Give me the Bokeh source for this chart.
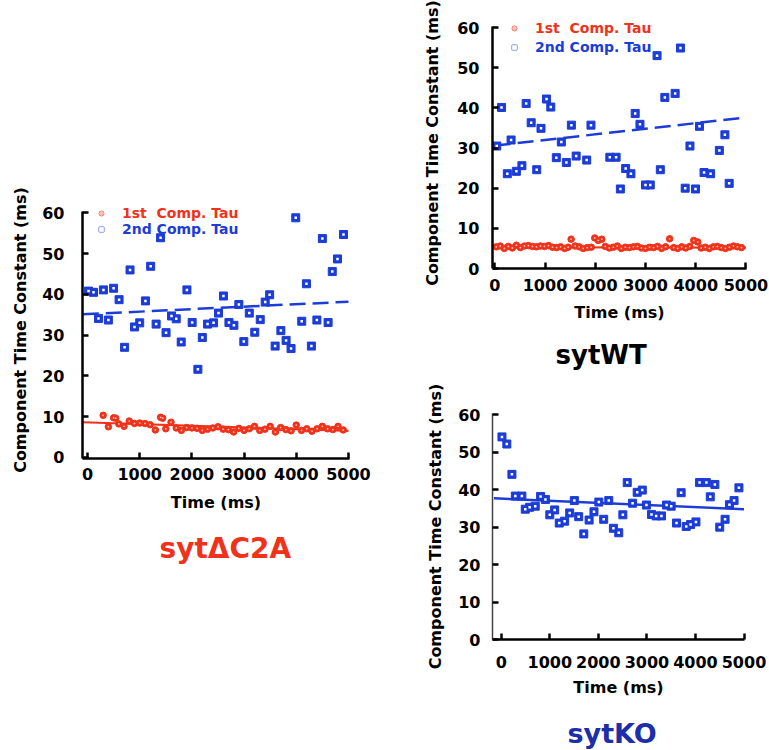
from bokeh.plotting import figure
from bokeh.layouts import row, column, Spacer
from bokeh.models import Legend, LegendItem, Title, FixedTicker, Range1d
from bokeh.embed import file_html
from bokeh.resources import INLINE

# ---------------- data ----------------
x_ticks = [0, 1000, 2000, 3000, 4000, 5000]
y_ticks = [0, 10, 20, 30, 40, 50, 60]

# sytΔC2A : 2nd component tau
c2a_t2 = [20, 115, 210, 305, 400, 500, 605, 710, 815, 900, 1000, 1110, 1210, 1315, 1400,
          1505, 1610, 1700, 1795, 1905, 2005, 2115, 2200, 2300, 2415, 2510, 2605, 2710, 2805,
          2900, 2995, 3100, 3205, 3310, 3405, 3490, 3595, 3705, 3805, 3900, 3990, 4105, 4195,
          4290, 4395, 4500, 4610, 4690, 4790, 4905]
c2a_tau2 = [40.8, 40.5, 34.1, 41.1, 33.7, 41.5, 38.7, 27.0, 46.0, 32.0, 33.0, 38.4, 46.9, 32.7,
            53.9, 30.6, 34.7, 34.0, 28.3, 41.1, 33.1, 21.6, 29.4, 32.7, 33.0, 35.4, 39.6, 33.1,
            32.4, 37.5, 28.4, 35.4, 30.7, 33.8, 38.1, 39.9, 27.3, 31.1, 28.7, 26.7, 58.8, 33.4,
            42.6, 27.3, 33.7, 53.7, 33.1, 45.6, 48.7, 54.7]
# sytΔC2A : 1st component tau
c2a_t1 = [300, 400, 500, 540, 600, 700, 800, 900, 1000, 1100, 1200, 1300, 1400, 1440, 1500,
          1600, 1700, 1800, 1900, 2000, 2100, 2200, 2300, 2400, 2500, 2600, 2700, 2800, 2900,
          3000, 3100, 3200, 3300, 3400, 3500, 3600, 3700, 3800, 3900, 4000, 4100, 4200, 4300,
          4400, 4500, 4600, 4700, 4800, 4900]
c2a_tau1 = [10.3, 7.5, 9.7, 9.6, 8.2, 7.6, 8.9, 8.3, 8.4, 8.3, 8.0, 6.7, 9.8, 9.6, 7.0,
            8.6, 7.2, 6.6, 7.3, 7.2, 7.1, 6.6, 6.9, 7.2, 7.5, 6.9, 6.8, 6.2, 7.1,
            6.6, 7.0, 7.6, 6.6, 6.9, 7.6, 6.2, 7.3, 6.8, 6.5, 7.9, 6.6, 7.0, 6.4,
            7.0, 7.6, 7.0, 6.8, 7.6, 6.7]
c2a_fit_x = [-90, 5000]
c2a_fit2 = [35.1, 38.2]
c2a_fit1 = [8.6, 6.5]

# sytWT : 2nd component tau
wt_t2 = [40, 135, 250, 325, 430, 540, 625, 725, 835, 920, 1030, 1115, 1225, 1325, 1425, 1525,
         1620, 1830, 1915, 2290, 2415, 2500, 2605, 2710, 2795, 2890, 3000, 3095, 3230, 3295,
         3385, 3590, 3695, 3790, 3885, 3995, 4075, 4165, 4295, 4470, 4580, 4665]
wt_tau2 = [30.5, 40.1, 23.6, 32.0, 24.2, 25.6, 41.1, 36.3, 24.6, 34.9, 42.2, 40.2, 27.6, 31.5,
           26.4, 35.7, 28.0, 27.0, 35.7, 27.7, 27.7, 19.8, 24.9, 23.6, 38.6, 35.9, 20.8, 20.8,
           53.0, 24.6, 42.6, 43.6, 54.9, 20.0, 30.5, 19.8, 35.4, 23.9, 23.6, 29.4, 33.3, 21.2]
# sytWT : 1st component tau
wt_t1 = [30, 110, 190, 270, 350, 430, 510, 590, 670, 750, 830, 910, 990, 1070, 1150, 1230,
         1310, 1390, 1460, 1520, 1600, 1680, 1760, 1840, 1920, 1990, 2060, 2130, 2200, 2280,
         2360, 2440, 2520, 2600, 2680, 2760, 2840, 2920, 3000, 3080, 3160, 3240, 3320, 3400,
         3480, 3560, 3640, 3720, 3800, 3880, 3960, 4040, 4110, 4190, 4270, 4350, 4430, 4510,
         4590, 4670, 4750, 4830, 4910]
wt_tau1 = [5.4, 5.6, 5.0, 5.5, 5.1, 5.8, 5.2, 5.6, 5.7, 5.5, 5.4, 5.6, 5.5, 5.7, 5.3, 5.2,
           5.4, 5.0, 5.3, 7.3, 5.6, 5.4, 5.0, 5.2, 5.3, 7.6, 7.0, 7.3, 5.5, 5.1,
           5.3, 5.6, 5.0, 5.3, 5.2, 5.4, 5.5, 5.1, 5.0, 5.3, 5.2, 5.5, 5.0, 5.4,
           7.4, 5.2, 5.0, 5.4, 5.1, 5.5, 7.0, 6.6, 5.1, 5.3, 5.0, 5.4, 5.5, 5.2,
           5.0, 5.3, 5.6, 5.4, 5.2]
wt_fit_x = [0, 5000]
wt_fit2 = [30.6, 37.6]
wt_fit1 = [5.3, 5.2]

# sytKO : single component tau
ko_t = [15, 115, 220, 290, 425, 495, 585, 700, 810, 910, 1000, 1100, 1195, 1305, 1410, 1505,
        1595, 1700, 1810, 1910, 2010, 2110, 2215, 2310, 2420, 2505, 2595, 2705, 2800, 2905,
        2990, 3095, 3190, 3300, 3405, 3500, 3610, 3705, 3810, 3900, 4010, 4085, 4225, 4305,
        4400, 4500, 4610, 4700, 4795, 4895]
ko_tau = [54.1, 52.2, 44.1, 38.3, 38.3, 34.8, 35.3, 35.6, 38.2, 37.4, 33.3, 34.6, 31.1, 31.6,
          33.8, 37.1, 32.8, 28.2, 31.9, 34.1, 36.7, 32.1, 37.1, 29.7, 28.5, 33.3, 41.9, 36.4,
          39.3, 39.9, 35.9, 33.4, 33.0, 33.0, 35.9, 35.6, 31.1, 39.2, 30.2, 30.7, 31.4, 41.9,
          41.9, 38.1, 41.4, 30.0, 32.1, 36.0, 37.1, 40.5]
ko_fit_x = [-150, 5000]
ko_fit = [37.7, 34.8]

# ---------------- styling ----------------
RED = "#f0321a"
BLUE = "#1c3cd8"
KO_BLUE = "#1c2ea8"
FONT = "DejaVu Sans"


def panel(xr, yr, ybounds, fw, fh, left, top, right, bottom, xl_standoff, yl_standoff,
          xlab_standoff, ylab_standoff, yaxis_width=2.5, yaxis_color="black"):
    p = figure(x_range=Range1d(*xr), y_range=Range1d(*yr), frame_width=fw, frame_height=fh,
               min_border_left=left, min_border_top=top, min_border_right=right,
               min_border_bottom=bottom, output_backend="svg", toolbar_location=None,
               title=None)
    p.outline_line_color = None
    p.grid.visible = False
    for ax in (p.xaxis[0], p.yaxis[0]):
        ax.axis_line_color = "black"
        ax.axis_line_width = 2.5
        ax.major_tick_in = 6
        ax.major_tick_out = 0
        ax.major_tick_line_width = 2.5
        ax.major_tick_line_color = "black"
        ax.minor_tick_line_color = None
        ax.major_label_text_font = FONT
        ax.major_label_text_font_style = "bold"
        ax.major_label_text_font_size = "16px"
        ax.major_label_text_color = "black"
        ax.axis_label_text_font = FONT
        ax.axis_label_text_font_style = "bold"
        ax.axis_label_text_font_size = "16px"
        ax.axis_label_text_color = "black"
    p.xaxis[0].ticker = FixedTicker(ticks=x_ticks)
    p.yaxis[0].ticker = FixedTicker(ticks=y_ticks)
    p.yaxis[0].bounds = ybounds
    p.xaxis[0].axis_label = "Time (ms)"
    p.yaxis[0].axis_label = "Component Time Constant (ms)"
    p.xaxis[0].major_label_standoff = xl_standoff
    p.yaxis[0].major_label_standoff = yl_standoff
    p.xaxis[0].axis_label_standoff = xlab_standoff
    p.yaxis[0].axis_label_standoff = ylab_standoff
    p.yaxis[0].axis_line_width = yaxis_width
    p.yaxis[0].axis_line_color = yaxis_color
    return p


def squares(p, x, y):
    r = p.scatter(x, y, marker="square", size=8, fill_color=BLUE, line_color=BLUE)
    c = p.scatter(x, y, marker="square", size=2.5, fill_color="white", line_color=None)
    return [r, c]


def dots(p, x, y):
    r = p.scatter(x, y, marker="circle", size=6.5, fill_color=RED, line_color=RED)
    c = p.scatter(x, y, marker="circle", size=1.8, fill_color="white", line_color=None,
                  fill_alpha=0.7)
    return [r, c]


def legend(p, label, rends, color, x, y):
    lg = Legend(items=[LegendItem(label=label, renderers=rends)], location=(x, y),
                label_text_color=color, label_text_font=FONT, label_text_font_style="bold",
                label_text_font_size="14px", background_fill_alpha=0, border_line_color=None,
                padding=0, margin=0, glyph_width=12, glyph_height=14, label_standoff=15,
                label_height=14)
    p.add_layout(lg)


def caption(p, text, color, size, offset, standoff):
    t = Title(text=text, align="left", offset=offset, standoff=standoff,
              text_font=FONT, text_font_style="bold", text_font_size=size,
              text_color=color)
    p.add_layout(t, "below")


# ---- sytΔC2A ----
pa = panel((-96, 5020), (-0.3, 62.8), (-0.3, 60.3), 267, 257, 82, 21, 71, 40,
           9, 18, 10, 9)
pa.line(c2a_fit_x, c2a_fit1, line_color=RED, line_width=2.2)
pa.line(c2a_fit_x, c2a_fit2, line_color=BLUE, line_width=2.5, line_dash="16 7")
ra = dots(pa, c2a_t1, c2a_tau1)
ba = squares(pa, c2a_t2, c2a_tau2)
legend(pa, "1st  Comp. Tau", ra, RED, 13, 237)
legend(pa, "2nd Comp. Tau", ba, BLUE, 13, 221)
caption(pa, "sytΔC2A", RED, "28px", 77, 30)

# ---- sytWT ----
pw = panel((-45, 5010), (0, 62.5), (0, 60.3), 254, 251, 70, 17, 25, 114,
           10, 13, 9, 12)
pw.line(wt_fit_x, wt_fit1, line_color=RED, line_width=2.2)
pw.line(wt_fit_x, wt_fit2, line_color=BLUE, line_width=2.5, line_dash="16 7")
rw = dots(pw, wt_t1, wt_tau1)
bw = squares(pw, wt_t2, wt_tau2)
legend(pw, "1st  Comp. Tau", rw, RED, 16, 232)
legend(pw, "2nd Comp. Tau", bw, BLUE, 16, 213)
caption(pw, "sytWT", "black", "26px", 63, 26)

# ---- sytKO ----
pk = panel((-180, 5010), (0, 60.35), (0, 60.35), 252, 226, 67, 31, 30, 0,
           16, 12, 7, 10, yaxis_width=1.5, yaxis_color="#444444")
pk.line(ko_fit_x, ko_fit, line_color=BLUE, line_width=2.5)
squares(pk, ko_t, ko_tau)
caption(pk, "sytKO", KO_BLUE, "27px", 75, 32)

layout = row(column(Spacer(width=420, height=180), pa), column(pw, pk))

open("out.html", "w").write(file_html(layout, INLINE))
